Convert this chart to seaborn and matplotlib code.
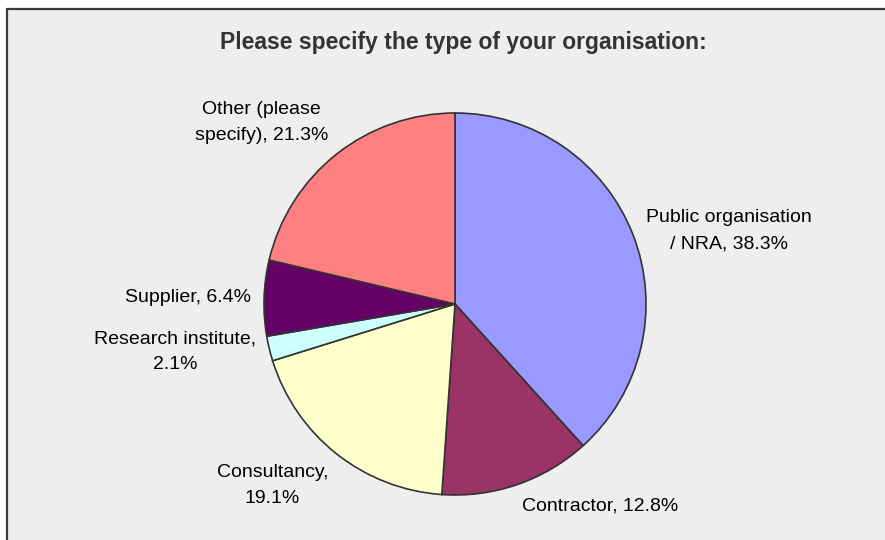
import numpy as np
import matplotlib
matplotlib.use("Agg")
import matplotlib.pyplot as plt
from matplotlib.lines import Line2D
import seaborn as sns

sns.set_theme(style="white")
plt.rcParams["font.family"] = ["Liberation Sans", "DejaVu Sans"]

# Survey answers (share of respondents, %)
categories = [
    "Public organisation\n/ NRA",
    "Contractor",
    "Consultancy",
    "Research institute",
    "Supplier",
    "Other (please\nspecify)",
]
shares = [38.3, 12.8, 19.1, 2.1, 6.4, 21.3]
slice_colors = ["#9999FF", "#993366", "#FFFFCC", "#CCFFFF", "#660066", "#FF8080"]
title = "Please specify the type of your organisation:"
# labels whose value goes on its own line
wrapped_value = {"Consultancy", "Research institute"}


def make_label(name, value):
    sep = ",\n" if name in wrapped_value else ", "
    return f"{name}{sep}{value:.1f}%"


labels = [make_label(c, v) for c, v in zip(categories, shares)]

W, H = 885, 540
fig = plt.figure(figsize=(W / 100, H / 100), dpi=100)
fig.patch.set_facecolor("white")

ax = fig.add_axes([0, 0, 1, 1])

# grey chart area with a frame on the top and left sides
left_px, top_px = 6.5, 9
ax.fill_between([left_px, W + 5], -5, H - top_px, color="#EEEEEE", zorder=0, lw=0)
ax.add_line(Line2D([left_px, left_px], [-5, H - top_px], color="#3A3A3A", lw=1.6, zorder=1))
ax.add_line(Line2D([left_px, W + 5], [H - top_px, H - top_px], color="#3A3A3A", lw=1.6, zorder=1))

cx, cy, r = 455, 236, 191
wedges, texts = ax.pie(
    shares,
    labels=labels,
    colors=slice_colors,
    startangle=90,
    counterclock=False,
    center=(cx, cy),
    radius=r,
    labeldistance=1.07,
    wedgeprops=dict(edgecolor="#333333", linewidth=1.2, zorder=2),
    textprops=dict(fontsize=14, color="black", multialignment="center",
                   linespacing=1.7, zorder=3),
    frame=True,
)
ax.set_xlim(0, W)
ax.set_ylim(0, H)
ax.set_aspect("equal")
ax.axis("off")

# place each label on the outer side of its slice
for w, t in zip(wedges, texts):
    mid = np.deg2rad((w.theta1 + w.theta2) / 2)
    c, s = np.cos(mid), np.sin(mid)
    t.set_ha("left" if c >= 0 else "right")
    if s > 0.5:
        t.set_va("bottom")
    elif s < -0.5:
        t.set_va("top")
    else:
        t.set_va("center")

ax.text(463, H - 43, title, ha="center", va="center",
        fontsize=16.5, fontweight="bold", color="#333333", zorder=3)

fig.savefig("out.png", dpi=100)
